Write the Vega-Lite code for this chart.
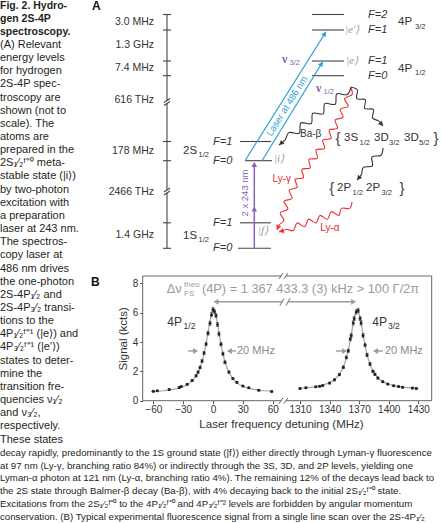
{
"$schema": "https://vega.github.io/schema/vega-lite/v6.json",
"width": 442, "height": 523, "padding": 0, "autosize": {"type": "none"},
"background": "white",
"config": {"view": {"stroke": null}, "text": {"font": "Liberation Sans"}, "axis": {"labelFont": "Liberation Sans", "titleFont": "Liberation Sans"}},
"resolve": {"scale": {"x": "independent", "y": "independent"}},
"layer": [
 {"layer": [
  {"data": {"values": [
    {"line": 1, "t": "Fig. 2. Hydro-"}, {"line": 2, "t": "gen 2S-4P"}, {"line": 3, "t": "spectroscopy."}]},
   "mark": {"type": "text", "align": "left", "baseline": "middle", "fontSize": 10.5, "fontWeight": "bold", "color": "#231f20"},
   "encoding": {
    "x": {"datum": 0, "type": "quantitative", "scale": {"domain": [0, 1], "range": [0, 442]}, "axis": null},
    "y": {"field": "line", "type": "quantitative", "scale": {"domain": [1, 34, 35, 40], "range": [5.5, 439.5, 453, 516.5], "nice": false, "zero": false}, "axis": null},
    "text": {"field": "t", "type": "nominal"}}},
  {"data": {"values": [
    {"line": 4, "t": "(A) Relevant"}, {"line": 5, "t": "energy levels"}, {"line": 6, "t": "for hydrogen"},
    {"line": 7, "t": "2S-4P spec-"}, {"line": 8, "t": "troscopy are"}, {"line": 9, "t": "shown (not to"},
    {"line": 10, "t": "scale). The"}, {"line": 11, "t": "atoms are"}, {"line": 12, "t": "prepared in the"},
    {"line": 13, "t": "2S₁⁄₂ᶠ⁼⁰ meta-"}, {"line": 14, "t": "stable state (|i⟩)"}, {"line": 15, "t": "by two-photon"},
    {"line": 16, "t": "excitation with"}, {"line": 17, "t": "a preparation"}, {"line": 18, "t": "laser at 243 nm."},
    {"line": 19, "t": "The spectros-"}, {"line": 20, "t": "copy laser at"}, {"line": 21, "t": "486 nm drives"},
    {"line": 22, "t": "the one-photon"}, {"line": 23, "t": "2S-4P₁⁄₂ and"}, {"line": 24, "t": "2S-4P₃⁄₂ transi-"},
    {"line": 25, "t": "tions to the"}, {"line": 26, "t": "4P₁⁄₂ᶠ⁼¹ (|e⟩) and"}, {"line": 27, "t": "4P₃⁄₂ᶠ⁼¹ (|e′⟩)"},
    {"line": 28, "t": "states to deter-"}, {"line": 29, "t": "mine the"}, {"line": 30, "t": "transition fre-"},
    {"line": 31, "t": "quencies ν₁⁄₂"}, {"line": 32, "t": "and ν₃⁄₂,"}, {"line": 33, "t": "respectively."},
    {"line": 34, "t": "These states"}]},
   "mark": {"type": "text", "align": "left", "baseline": "middle", "fontSize": 11, "color": "#231f20"},
   "encoding": {
    "x": {"datum": 0, "type": "quantitative", "axis": null},
    "y": {"field": "line", "type": "quantitative", "axis": null},
    "text": {"field": "t", "type": "nominal"}}},
  {"data": {"values": [
    {"line": 35, "t": "decay rapidly, predominantly to the 1S ground state (|f⟩) either directly through Lyman-γ fluorescence"},
    {"line": 36, "t": "at 97 nm (Ly-γ, branching ratio 84%) or indirectly through the 3S, 3D, and 2P levels, yielding one"},
    {"line": 37, "t": "Lyman-α photon at 121 nm (Ly-α, branching ratio 4%). The remaining 12% of the decays lead back to"},
    {"line": 38, "t": "the 2S state through Balmer-β decay (Ba-β), with 4% decaying back to the initial 2S₁⁄₂ᶠ⁼⁰ state."},
    {"line": 39, "t": "Excitations from the 2S₁⁄₂ᶠ⁼⁰ to the 4P₁⁄₂ᶠ⁼⁰ and 4P₃⁄₂ᶠ⁼² levels are forbidden by angular momentum"},
    {"line": 40, "t": "conservation. (B) Typical experimental fluorescence signal from a single line scan over the 2S-4P₁⁄₂"}]},
   "mark": {"type": "text", "align": "left", "baseline": "middle", "fontSize": 9.7, "color": "#231f20"},
   "encoding": {
    "x": {"datum": 0, "type": "quantitative", "axis": null},
    "y": {"field": "line", "type": "quantitative", "axis": null},
    "text": {"field": "t", "type": "nominal"}}}
 ]},
 {"layer": [
  {"data": {"values": [
    {"u": 222, "u2": 254, "v": 14.5, "v2": 14.5}, {"u": 222, "u2": 254, "v": 30, "v2": 30},
    {"u": 222, "u2": 254, "v": 61, "v2": 61}, {"u": 222, "u2": 254, "v": 75.7, "v2": 75.7},
    {"u": 150, "u2": 181, "v": 141.5, "v2": 141.5}, {"u": 155, "u2": 182, "v": 160.7, "v2": 160.7},
    {"u": 150, "u2": 181, "v": 222.8, "v2": 222.8}, {"u": 148, "u2": 181, "v": 248.3, "v2": 248.3},
    {"u": 77, "u2": 77, "v": 14.5, "v2": 100.5}, {"u": 77, "u2": 77, "v": 103.5, "v2": 190}, {"u": 77, "u2": 77, "v": 193, "v2": 248.3},
    {"u": 73, "u2": 81, "v": 14.5, "v2": 14.5}, {"u": 73, "u2": 81, "v": 30, "v2": 30},
    {"u": 73, "u2": 81, "v": 61, "v2": 61}, {"u": 73, "u2": 81, "v": 75.7, "v2": 75.7},
    {"u": 73, "u2": 81, "v": 141.5, "v2": 141.5}, {"u": 73, "u2": 81, "v": 160.7, "v2": 160.7},
    {"u": 73, "u2": 81, "v": 222.8, "v2": 222.8}, {"u": 73, "u2": 81, "v": 248.3, "v2": 248.3},
    {"u": 74, "u2": 80, "v": 102.5, "v2": 98.5}, {"u": 74, "u2": 80, "v": 105.5, "v2": 101.5},
    {"u": 74, "u2": 80, "v": 192, "v2": 188}, {"u": 74, "u2": 80, "v": 195, "v2": 191}]},
   "mark": {"type": "rule", "color": "#444", "strokeWidth": 1.1},
   "encoding": {
    "x": {"field": "u", "type": "quantitative", "scale": {"domain": [0, 352], "range": [90, 442], "nice": false, "zero": false}, "axis": null},
    "x2": {"field": "u2"},
    "y": {"field": "v", "type": "quantitative", "scale": {"domain": [0, 260], "range": [0, 260], "nice": false, "zero": false}, "axis": null},
    "y2": {"field": "v2"}}},
  {"data": {"values": [{"u": 155, "u2": 236, "v": 160.7, "v2": 31.7}, {"u": 172, "u2": 232.7, "v": 160.7, "v2": 61.7}]},
   "mark": {"type": "rule", "color": "#2a9fd6", "strokeWidth": 1.2},
   "encoding": {"x": {"field": "u", "type": "quantitative", "axis": null}, "x2": {"field": "u2"}, "y": {"field": "v", "type": "quantitative", "axis": null}, "y2": {"field": "v2"}}},
  {"data": {"values": [{"u": 164.3, "u2": 164.3, "v": 248.3, "v2": 163}]},
   "mark": {"type": "rule", "color": "#8a63b8", "strokeWidth": 1.5},
   "encoding": {"x": {"field": "u", "type": "quantitative", "axis": null}, "x2": {"field": "u2"}, "y": {"field": "v", "type": "quantitative", "axis": null}, "y2": {"field": "v2"}}},
  {"data": {"values": [
    {"id": "ba", "i": 0, "u": 261, "v": 87}, {"id": "ba", "i": 1, "u": 257.19, "v": 94.55}, {"id": "ba", "i": 2, "u": 246.81, "v": 93.95},
    {"id": "ba", "i": 3, "u": 245.19, "v": 104.22}, {"id": "ba", "i": 4, "u": 234.81, "v": 103.61}, {"id": "ba", "i": 5, "u": 233.19, "v": 113.89},
    {"id": "ba", "i": 6, "u": 222.81, "v": 113.28}, {"id": "ba", "i": 7, "u": 221.19, "v": 123.55}, {"id": "ba", "i": 8, "u": 210.81, "v": 122.95},
    {"id": "ba", "i": 9, "u": 209.19, "v": 133.22}, {"id": "ba", "i": 10, "u": 198.81, "v": 132.61}, {"id": "ba", "i": 11, "u": 195, "v": 140.17},
    {"id": "ba", "i": 12, "u": 189, "v": 145},
    {"id": "r3", "i": 0, "u": 261, "v": 87}, {"id": "r3", "i": 1, "u": 267.32, "v": 89.97}, {"id": "r3", "i": 2, "u": 266.68, "v": 98.65},
    {"id": "r3", "i": 3, "u": 275.32, "v": 99.72}, {"id": "r3", "i": 4, "u": 274.68, "v": 108.4}, {"id": "r3", "i": 5, "u": 283.32, "v": 109.47},
    {"id": "r3", "i": 6, "u": 282.68, "v": 118.15}, {"id": "r3", "i": 7, "u": 289, "v": 121.1}, {"id": "r3", "i": 8, "u": 293, "v": 126},
    {"id": "sp", "i": 0, "u": 293, "v": 148}, {"id": "sp", "i": 1, "u": 291, "v": 155.22}, {"id": "sp", "i": 2, "u": 282, "v": 156.78},
    {"id": "sp", "i": 3, "u": 282.33, "v": 165.89}, {"id": "sp", "i": 4, "u": 273.34, "v": 167.44}, {"id": "sp", "i": 5, "u": 271.3, "v": 174.7},
    {"id": "sp", "i": 6, "u": 267, "v": 180}]},
   "mark": {"type": "line", "interpolate": "catmull-rom", "color": "#333", "strokeWidth": 1.1},
   "encoding": {"x": {"field": "u", "type": "quantitative", "axis": null}, "y": {"field": "v", "type": "quantitative", "axis": null},
    "detail": {"field": "id", "type": "nominal"}, "order": {"field": "i", "type": "quantitative"}}},
  {"data": {"values": [
    {"id": "lg", "i": 0, "u": 261, "v": 88}, {"id": "lg", "i": 1, "u": 262.07, "v": 94.61}, {"id": "lg", "i": 2, "u": 254.56, "v": 98.56},
    {"id": "lg", "i": 3, "u": 258.19, "v": 106.37}, {"id": "lg", "i": 4, "u": 250.21, "v": 109.2}, {"id": "lg", "i": 5, "u": 253.04, "v": 117.18},
    {"id": "lg", "i": 6, "u": 245.06, "v": 120.01}, {"id": "lg", "i": 7, "u": 247.51, "v": 128.21}, {"id": "lg", "i": 8, "u": 239.24, "v": 130.05},
    {"id": "lg", "i": 9, "u": 241.08, "v": 138.33}, {"id": "lg", "i": 10, "u": 232.8, "v": 140.17}, {"id": "lg", "i": 11, "u": 234.65, "v": 148.44},
    {"id": "lg", "i": 12, "u": 226.12, "v": 149.84}, {"id": "lg", "i": 13, "u": 227.32, "v": 158.24}, {"id": "lg", "i": 14, "u": 218.92, "v": 159.44},
    {"id": "lg", "i": 15, "u": 220.12, "v": 167.84}, {"id": "lg", "i": 16, "u": 211.84, "v": 169.32}, {"id": "lg", "i": 17, "u": 213.51, "v": 177.66},
    {"id": "lg", "i": 18, "u": 205.18, "v": 179.31}, {"id": "lg", "i": 19, "u": 207.2, "v": 187.36}, {"id": "lg", "i": 20, "u": 199.22, "v": 190.23},
    {"id": "lg", "i": 21, "u": 202.09, "v": 198.21}, {"id": "lg", "i": 22, "u": 194.02, "v": 201.43}, {"id": "lg", "i": 23, "u": 197.83, "v": 209.02},
    {"id": "lg", "i": 24, "u": 190.23, "v": 212.82}, {"id": "lg", "i": 25, "u": 193.87, "v": 220.51}, {"id": "lg", "i": 26, "u": 188.91, "v": 225.02},
    {"id": "lg", "i": 27, "u": 187, "v": 230},
    {"id": "la", "i": 0, "u": 262, "v": 202}, {"id": "la", "i": 1, "u": 259.88, "v": 208.36}, {"id": "la", "i": 2, "u": 251.39, "v": 208.37},
    {"id": "la", "i": 3, "u": 248.9, "v": 215.5}, {"id": "la", "i": 4, "u": 241.32, "v": 211.68}, {"id": "la", "i": 5, "u": 237.5, "v": 219.25},
    {"id": "la", "i": 6, "u": 229.92, "v": 215.42}, {"id": "la", "i": 7, "u": 226.1, "v": 222.99}, {"id": "la", "i": 8, "u": 218.52, "v": 219.16},
    {"id": "la", "i": 9, "u": 214.7, "v": 226.74}, {"id": "la", "i": 10, "u": 207.12, "v": 222.91}, {"id": "la", "i": 11, "u": 203.3, "v": 230.48},
    {"id": "la", "i": 12, "u": 196.66, "v": 229.5}, {"id": "la", "i": 13, "u": 189, "v": 232}]},
   "mark": {"type": "line", "interpolate": "catmull-rom", "color": "#ed2d2e", "strokeWidth": 1.1},
   "encoding": {"x": {"field": "u", "type": "quantitative", "axis": null}, "y": {"field": "v", "type": "quantitative", "axis": null},
    "detail": {"field": "id", "type": "nominal"}, "order": {"field": "i", "type": "quantitative"}}},
  {"data": {"values": [{"u": 291.4, "v": 124.1, "a": 141}, {"u": 191, "v": 143.4, "a": 231}, {"u": 268.6, "v": 178.1, "a": 219}]},
   "mark": {"type": "point", "shape": "triangle-up", "filled": true, "size": 28, "color": "#333", "opacity": 1},
   "encoding": {"x": {"field": "u", "type": "quantitative", "axis": null}, "y": {"field": "v", "type": "quantitative", "axis": null},
    "angle": {"field": "a", "type": "quantitative", "scale": {"domain": [0, 360], "range": [0, 360]}}}},
  {"data": {"values": [{"u": 187.9, "v": 227.7, "a": 201}, {"u": 191.4, "v": 231.2, "a": 252}]},
   "mark": {"type": "point", "shape": "triangle-up", "filled": true, "size": 28, "color": "#ed2d2e", "opacity": 1},
   "encoding": {"x": {"field": "u", "type": "quantitative", "axis": null}, "y": {"field": "v", "type": "quantitative", "axis": null},
    "angle": {"field": "a", "type": "quantitative"}}},
  {"data": {"values": [{"u": 234.7, "v": 33.8, "a": 32}, {"u": 231.4, "v": 63.8, "a": 31}]},
   "mark": {"type": "point", "shape": "triangle-up", "filled": true, "size": 28, "color": "#2a9fd6", "opacity": 1},
   "encoding": {"x": {"field": "u", "type": "quantitative", "axis": null}, "y": {"field": "v", "type": "quantitative", "axis": null},
    "angle": {"field": "a", "type": "quantitative"}}},
  {"data": {"values": [{"u": 164.3, "v": 164.5, "a": 0}, {"u": 164.3, "v": 209, "a": 0}]},
   "mark": {"type": "point", "shape": "triangle-up", "filled": true, "size": 32, "color": "#8a63b8", "opacity": 1},
   "encoding": {"x": {"field": "u", "type": "quantitative", "axis": null}, "y": {"field": "v", "type": "quantitative", "axis": null},
    "angle": {"field": "a", "type": "quantitative"}}},
  {"data": {"values": [
    {"u": 64, "v": 22, "t": "3.0 MHz"}, {"u": 64, "v": 45, "t": "1.3 GHz"}, {"u": 64, "v": 68.3, "t": "7.4 MHz"},
    {"u": 64, "v": 100, "t": "616 THz"}, {"u": 64, "v": 151, "t": "178 MHz"}, {"u": 64, "v": 191.7, "t": "2466 THz"},
    {"u": 64, "v": 235, "t": "1.4 GHz"}]},
   "mark": {"type": "text", "align": "right", "baseline": "middle", "fontSize": 10.5, "color": "#333"},
   "encoding": {"x": {"field": "u", "type": "quantitative", "axis": null}, "y": {"field": "v", "type": "quantitative", "axis": null}, "text": {"field": "t", "type": "nominal"}}},
  {"data": {"values": [
    {"u": 278, "v": 14.5, "t": "F=2"}, {"u": 278, "v": 30, "t": "F=1"}, {"u": 278, "v": 61, "t": "F=1"}, {"u": 278, "v": 75.7, "t": "F=0"},
    {"u": 123, "v": 141.5, "t": "F=1"}, {"u": 123, "v": 160.7, "t": "F=0"}, {"u": 123, "v": 222.8, "t": "F=1"}, {"u": 123, "v": 248.3, "t": "F=0"}]},
   "mark": {"type": "text", "align": "left", "baseline": "middle", "fontSize": 11, "fontStyle": "italic", "color": "#333"},
   "encoding": {"x": {"field": "u", "type": "quantitative", "axis": null}, "y": {"field": "v", "type": "quantitative", "axis": null}, "text": {"field": "t", "type": "nominal"}}},
  {"data": {"values": [
    {"u": 308, "v": 22, "t": "4P"}, {"u": 308, "v": 68.5, "t": "4P"}, {"u": 93, "v": 150.5, "t": "2S"}, {"u": 93, "v": 235.5, "t": "1S"},
    {"u": 254, "v": 138, "t": "3S"}, {"u": 284, "v": 138, "t": "3D"}, {"u": 314, "v": 138, "t": "3D"},
    {"u": 247, "v": 188, "t": "2P"}, {"u": 276, "v": 188, "t": "2P"}]},
   "mark": {"type": "text", "align": "left", "baseline": "middle", "fontSize": 11.5, "color": "#333"},
   "encoding": {"x": {"field": "u", "type": "quantitative", "axis": null}, "y": {"field": "v", "type": "quantitative", "axis": null}, "text": {"field": "t", "type": "nominal"}}},
  {"data": {"values": [
    {"u": 325, "v": 26.5, "t": "3/2"}, {"u": 325, "v": 73, "t": "1/2"}, {"u": 108.5, "v": 155, "t": "1/2"}, {"u": 108.5, "v": 240, "t": "1/2"},
    {"u": 269.5, "v": 142.5, "t": "1/2"}, {"u": 299, "v": 142.5, "t": "3/2"}, {"u": 329, "v": 142.5, "t": "5/2"},
    {"u": 262.5, "v": 192.5, "t": "1/2"}, {"u": 291.5, "v": 192.5, "t": "3/2"}]},
   "mark": {"type": "text", "align": "left", "baseline": "middle", "fontSize": 7.5, "color": "#333"},
   "encoding": {"x": {"field": "u", "type": "quantitative", "axis": null}, "y": {"field": "v", "type": "quantitative", "axis": null}, "text": {"field": "t", "type": "nominal"}}},
  {"data": {"values": [{"u": 248, "v": 137.5, "t": "{"}, {"u": 346, "v": 137.5, "t": "}"}, {"u": 241.7, "v": 187.5, "t": "{"}, {"u": 312, "v": 187.5, "t": "}"}]},
   "mark": {"type": "text", "align": "center", "baseline": "middle", "fontSize": 15, "color": "#444"},
   "encoding": {"x": {"field": "u", "type": "quantitative", "axis": null}, "y": {"field": "v", "type": "quantitative", "axis": null}, "text": {"field": "t", "type": "nominal"}}},
  {"data": {"values": [{"u": 255, "v": 30, "t": "|e′⟩"}, {"u": 256, "v": 61, "t": "|e⟩"}, {"u": 184, "v": 159, "t": "|i⟩"}, {"u": 168, "v": 231, "t": "|f⟩"}]},
   "mark": {"type": "text", "align": "left", "baseline": "middle", "fontSize": 11, "font": "Liberation Serif", "fontStyle": "italic", "color": "#9a9a9a"},
   "encoding": {"x": {"field": "u", "type": "quantitative", "axis": null}, "y": {"field": "v", "type": "quantitative", "axis": null}, "text": {"field": "t", "type": "nominal"}}},
  {"data": {"values": [{"u": 192, "v": 58.5, "t": "ν"}, {"u": 226, "v": 88, "t": "ν"}]},
   "mark": {"type": "text", "align": "left", "baseline": "middle", "fontSize": 12, "font": "Liberation Serif", "fontWeight": "bold", "color": "#8a63b8"},
   "encoding": {"x": {"field": "u", "type": "quantitative", "axis": null}, "y": {"field": "v", "type": "quantitative", "axis": null}, "text": {"field": "t", "type": "nominal"}}},
  {"data": {"values": [{"u": 199.5, "v": 62.5, "t": "3/2"}, {"u": 233.5, "v": 92, "t": "1/2"}]},
   "mark": {"type": "text", "align": "left", "baseline": "middle", "fontSize": 7.5, "color": "#8a63b8"},
   "encoding": {"x": {"field": "u", "type": "quantitative", "axis": null}, "y": {"field": "v", "type": "quantitative", "axis": null}, "text": {"field": "t", "type": "nominal"}}},
  {"data": {"values": [{"u": 155, "v": 193, "t": "2 x 243 nm"}]},
   "mark": {"type": "text", "align": "center", "baseline": "middle", "fontSize": 9.5, "angle": 270, "color": "#8a63b8"},
   "encoding": {"x": {"field": "u", "type": "quantitative", "axis": null}, "y": {"field": "v", "type": "quantitative", "axis": null}, "text": {"field": "t", "type": "nominal"}}},
  {"data": {"values": [{"u": 197, "v": 106, "t": "Laser at 486 nm"}]},
   "mark": {"type": "text", "align": "center", "baseline": "middle", "fontSize": 9.5, "angle": 302, "color": "#2a9fd6"},
   "encoding": {"x": {"field": "u", "type": "quantitative", "axis": null}, "y": {"field": "v", "type": "quantitative", "axis": null}, "text": {"field": "t", "type": "nominal"}}},
  {"data": {"values": [{"u": 201, "v": 179, "t": "Ly-γ"}]},
   "mark": {"type": "text", "align": "right", "baseline": "middle", "fontSize": 10, "color": "#ed2d2e"},
   "encoding": {"x": {"field": "u", "type": "quantitative", "axis": null}, "y": {"field": "v", "type": "quantitative", "axis": null}, "text": {"field": "t", "type": "nominal"}}},
  {"data": {"values": [{"u": 240, "v": 227.5, "t": "Ly-α"}]},
   "mark": {"type": "text", "align": "center", "baseline": "middle", "fontSize": 10, "color": "#ed2d2e"},
   "encoding": {"x": {"field": "u", "type": "quantitative", "axis": null}, "y": {"field": "v", "type": "quantitative", "axis": null}, "text": {"field": "t", "type": "nominal"}}},
  {"data": {"values": [{"u": 210, "v": 134, "t": "Ba-β"}]},
   "mark": {"type": "text", "align": "left", "baseline": "middle", "fontSize": 10, "color": "#333"},
   "encoding": {"x": {"field": "u", "type": "quantitative", "axis": null}, "y": {"field": "v", "type": "quantitative", "axis": null}, "text": {"field": "t", "type": "nominal"}}},
  {"data": {"values": [{"u": 2, "v": 6, "t": "A"}, {"u": 1, "v": 282, "t": "B"}]},
   "mark": {"type": "text", "align": "left", "baseline": "middle", "fontSize": 12, "fontWeight": "bold", "color": "#111"},
   "encoding": {"x": {"field": "u", "type": "quantitative", "axis": null}, "y": {"field": "v", "type": "quantitative", "axis": null}, "text": {"field": "t", "type": "nominal"}}}
 ]},
 {"layer": [
  {"data": {"values": [
    {"f": -70.65, "f2": -70.65, "s": 0, "s2": 8.5}, {"f": 1443.6, "f2": 1443.6, "s": 0, "s2": 8.5},
    {"f": -70.65, "f2": 440, "s": 0, "s2": 0}, {"f": 669, "f2": 1443.6, "s": 0, "s2": 0},
    {"f": -70.65, "f2": 440, "s": 8.5, "s2": 8.5}, {"f": 669, "f2": 1443.6, "s": 8.5, "s2": 8.5},
    {"f": 348, "f2": 532, "s": -0.2, "s2": 0.2}, {"f": 577, "f2": 761, "s": -0.2, "s2": 0.2},
    {"f": 348, "f2": 532, "s": 8.3, "s2": 8.7}, {"f": 577, "f2": 761, "s": 8.3, "s2": 8.7}]},
   "mark": {"type": "rule", "color": "#666", "strokeWidth": 1},
   "encoding": {
    "x": {"field": "f", "type": "quantitative", "title": "Laser frequency detuning (MHz)", "scale": {"domain": [-70.65, 60, 1310, 1443.6], "range": [142.7, 272.7, 300, 431.7], "nice": false, "zero": false},
     "axis": {"orient": "bottom", "offset": -122.3, "values": [-60, -30, 0, 30, 60, 1310, 1340, 1370, 1400, 1430], "format": "d", "domain": false, "grid": false,
      "tickSize": 3, "tickColor": "#555", "labelFontSize": 10, "labelColor": "#333", "labelPadding": 1, "labelFlush": false,
      "titleFontSize": 11.5, "titleFontWeight": "normal", "titleColor": "#333", "titleX": 281, "titlePadding": 4}},
    "x2": {"field": "f2"},
    "y": {"field": "s", "type": "quantitative", "title": "Signal (kcts)", "scale": {"domain": [0, 8.5], "range": [400.7, 276], "nice": false, "zero": false},
     "axis": {"orient": "left", "offset": -142.7, "values": [0, 2, 4, 6, 8], "format": "d", "domain": false, "grid": false,
      "tickSize": 3, "tickColor": "#555", "labelFontSize": 10, "labelColor": "#333", "labelPadding": 2,
      "titleFontSize": 11.5, "titleFontWeight": "normal", "titleColor": "#333", "titlePadding": 4}},
    "y2": {"field": "s2"}}},
  {"data": {"values": [
    {"side": "L", "f": -62, "s": 0.62}, {"side": "L", "f": -50, "s": 0.68}, {"side": "L", "f": -40, "s": 0.77}, {"side": "L", "f": -30, "s": 0.96},
    {"side": "L", "f": -25, "s": 1.13}, {"side": "L", "f": -20, "s": 1.42}, {"side": "L", "f": -16, "s": 1.81}, {"side": "L", "f": -13, "s": 2.25},
    {"side": "L", "f": -10, "s": 2.91}, {"side": "L", "f": -8, "s": 3.51}, {"side": "L", "f": -6, "s": 4.25}, {"side": "L", "f": -4, "s": 5.06},
    {"side": "L", "f": -2, "s": 5.79}, {"side": "L", "f": 0, "s": 6.18}, {"side": "L", "f": 0.5, "s": 6.2}, {"side": "L", "f": 1, "s": 6.18},
    {"side": "L", "f": 3, "s": 5.79}, {"side": "L", "f": 5, "s": 5.06}, {"side": "L", "f": 7, "s": 4.25}, {"side": "L", "f": 9, "s": 3.51},
    {"side": "L", "f": 11, "s": 2.91}, {"side": "L", "f": 14, "s": 2.25}, {"side": "L", "f": 17, "s": 1.81}, {"side": "L", "f": 21, "s": 1.42},
    {"side": "L", "f": 26, "s": 1.13}, {"side": "L", "f": 31, "s": 0.96}, {"side": "L", "f": 41, "s": 0.77}, {"side": "L", "f": 51, "s": 0.68},
    {"side": "L", "f": 60, "s": 0.63},
    {"side": "R", "f": 1310, "s": 0.85}, {"side": "R", "f": 1320, "s": 0.91}, {"side": "R", "f": 1330, "s": 1.01}, {"side": "R", "f": 1340, "s": 1.23},
    {"side": "R", "f": 1345, "s": 1.44}, {"side": "R", "f": 1350, "s": 1.81}, {"side": "R", "f": 1354, "s": 2.31}, {"side": "R", "f": 1357, "s": 2.91},
    {"side": "R", "f": 1359, "s": 3.45}, {"side": "R", "f": 1361, "s": 4.12}, {"side": "R", "f": 1363, "s": 4.88}, {"side": "R", "f": 1365, "s": 5.63},
    {"side": "R", "f": 1367, "s": 6.1}, {"side": "R", "f": 1368, "s": 6.17}, {"side": "R", "f": 1369, "s": 6.1}, {"side": "R", "f": 1371, "s": 5.63},
    {"side": "R", "f": 1373, "s": 4.88}, {"side": "R", "f": 1375, "s": 4.12}, {"side": "R", "f": 1377, "s": 3.45}, {"side": "R", "f": 1379, "s": 2.91},
    {"side": "R", "f": 1382, "s": 2.31}, {"side": "R", "f": 1386, "s": 1.81}, {"side": "R", "f": 1391, "s": 1.44}, {"side": "R", "f": 1396, "s": 1.23},
    {"side": "R", "f": 1406, "s": 1.01}, {"side": "R", "f": 1416, "s": 0.91}, {"side": "R", "f": 1430, "s": 0.83}]},
   "mark": {"type": "line", "interpolate": "monotone", "color": "#a5a5a5", "strokeWidth": 1.2},
   "encoding": {"x": {"field": "f", "type": "quantitative", "title": "Laser frequency detuning (MHz)"}, "y": {"field": "s", "type": "quantitative", "title": "Signal (kcts)"}, "detail": {"field": "side", "type": "nominal"}}},
  {"data": {"name": "pts", "values": [
    {"f": -60, "s": 0.64, "e": 0.05}, {"f": -56, "s": 0.67, "e": 0.05}, {"f": -44, "s": 0.76, "e": 0.05}, {"f": -34, "s": 0.9, "e": 0.05},
    {"f": -32, "s": 0.96, "e": 0.05}, {"f": -26, "s": 1.12, "e": 0.06}, {"f": -21, "s": 1.38, "e": 0.07}, {"f": -17, "s": 1.7, "e": 0.08},
    {"f": -15, "s": 1.95, "e": 0.08}, {"f": -13, "s": 2.27, "e": 0.09}, {"f": -11, "s": 2.7, "e": 0.1}, {"f": -9, "s": 3.25, "e": 0.11},
    {"f": -7, "s": 3.86, "e": 0.12}, {"f": -5, "s": 4.6, "e": 0.13}, {"f": -3, "s": 5.28, "e": 0.14}, {"f": -1.5, "s": 5.86, "e": 0.14},
    {"f": 0, "s": 6.22, "e": 0.15}, {"f": 1.5, "s": 6.08, "e": 0.15}, {"f": 3, "s": 5.8, "e": 0.14}, {"f": 4.5, "s": 5.2, "e": 0.14},
    {"f": 6, "s": 4.55, "e": 0.13}, {"f": 8, "s": 3.85, "e": 0.12}, {"f": 10, "s": 3.2, "e": 0.11}, {"f": 12, "s": 2.62, "e": 0.1},
    {"f": 16, "s": 1.95, "e": 0.08}, {"f": 20, "s": 1.52, "e": 0.07}, {"f": 24, "s": 1.25, "e": 0.06}, {"f": 30, "s": 1, "e": 0.05},
    {"f": 36, "s": 0.88, "e": 0.05}, {"f": 46, "s": 0.72, "e": 0.05}, {"f": 59, "s": 0.63, "e": 0.05},
    {"f": 1310, "s": 0.83, "e": 0.05}, {"f": 1316, "s": 0.88, "e": 0.05}, {"f": 1326, "s": 0.95, "e": 0.05}, {"f": 1330, "s": 0.99, "e": 0.05},
    {"f": 1333, "s": 1.04, "e": 0.05}, {"f": 1340, "s": 1.2, "e": 0.06}, {"f": 1345, "s": 1.42, "e": 0.07}, {"f": 1350, "s": 1.78, "e": 0.08},
    {"f": 1354, "s": 2.28, "e": 0.09}, {"f": 1357, "s": 2.95, "e": 0.1}, {"f": 1359, "s": 3.4, "e": 0.11}, {"f": 1361, "s": 4.2, "e": 0.12},
    {"f": 1362, "s": 4.45, "e": 0.13}, {"f": 1364, "s": 5.3, "e": 0.14}, {"f": 1365, "s": 5.6, "e": 0.14}, {"f": 1367, "s": 6.05, "e": 0.15},
    {"f": 1369, "s": 6.15, "e": 0.15}, {"f": 1371, "s": 5.6, "e": 0.14}, {"f": 1372, "s": 5.3, "e": 0.14}, {"f": 1374, "s": 4.45, "e": 0.13},
    {"f": 1376, "s": 3.8, "e": 0.12}, {"f": 1378, "s": 3.12, "e": 0.11}, {"f": 1381, "s": 2.5, "e": 0.1}, {"f": 1384, "s": 2.0, "e": 0.08},
    {"f": 1386, "s": 1.8, "e": 0.08}, {"f": 1389, "s": 1.55, "e": 0.07}, {"f": 1394, "s": 1.3, "e": 0.06}, {"f": 1399, "s": 1.13, "e": 0.05},
    {"f": 1405, "s": 1.02, "e": 0.05}, {"f": 1410, "s": 0.96, "e": 0.05}, {"f": 1414, "s": 0.92, "e": 0.05}, {"f": 1424, "s": 0.86, "e": 0.05},
    {"f": 1428, "s": 0.84, "e": 0.05}]},
   "mark": {"type": "errorbar", "ticks": true, "size": 3, "thickness": 0.8, "color": "#333"},
   "encoding": {"x": {"field": "f", "type": "quantitative", "title": "Laser frequency detuning (MHz)"}, "y": {"field": "s", "type": "quantitative", "title": "Signal (kcts)"}, "yError": {"field": "e"}}},
  {"data": {"name": "pts"},
   "mark": {"type": "circle", "size": 9, "color": "#222", "opacity": 1},
   "encoding": {"x": {"field": "f", "type": "quantitative", "title": "Laser frequency detuning (MHz)"}, "y": {"field": "s", "type": "quantitative", "title": "Signal (kcts)"}}},
  {"data": {"values": [
    {"f": 2, "f2": 486, "s": 6.74, "s2": 6.74}, {"f": 760, "f2": 1365, "s": 6.74, "s2": 6.74},
    {"f": 394, "f2": 577, "s": 6.5, "s2": 6.98}, {"f": 669, "f2": 852, "s": 6.5, "s2": 6.98},
    {"f": -25.1, "f2": -16.5, "s": 3.39, "s2": 3.39}, {"f": 23.1, "f2": 15, "s": 3.39, "s2": 3.39},
    {"f": 1346.5, "f2": 1356, "s": 3.39, "s2": 3.39}, {"f": 1394.2, "f2": 1385.5, "s": 3.39, "s2": 3.39}]},
   "mark": {"type": "rule", "color": "#9b9b9b", "strokeWidth": 1.4},
   "encoding": {"x": {"field": "f", "type": "quantitative", "title": "Laser frequency detuning (MHz)"}, "x2": {"field": "f2"}, "y": {"field": "s", "type": "quantitative", "title": "Signal (kcts)"}, "y2": {"field": "s2"}}},
  {"data": {"values": [
    {"f": 3, "s": 6.74, "a": 270}, {"f": 1364.4, "s": 6.74, "a": 90},
    {"f": -17.5, "s": 3.39, "a": 90}, {"f": 16.5, "s": 3.39, "a": 270}, {"f": 1355.2, "s": 3.39, "a": 90}, {"f": 1386.6, "s": 3.39, "a": 270}]},
   "mark": {"type": "point", "shape": "triangle-up", "filled": true, "size": 34, "color": "#9b9b9b", "opacity": 1},
   "encoding": {"x": {"field": "f", "type": "quantitative", "title": "Laser frequency detuning (MHz)"}, "y": {"field": "s", "type": "quantitative", "title": "Signal (kcts)"},
    "angle": {"field": "a", "type": "quantitative", "scale": {"domain": [0, 360], "range": [0, 360]}}}},
  {"data": {"values": [{"f": -46.5, "s": 7.59, "t": "Δν"}, {"f": -11.1, "s": 7.59, "t": "(4P) = 1 367 433.3 (3) kHz > 100 Γ/2π"}]},
   "mark": {"type": "text", "align": "left", "baseline": "middle", "fontSize": 12.8, "color": "#9b9b9b"},
   "encoding": {"x": {"field": "f", "type": "quantitative", "title": "Laser frequency detuning (MHz)"}, "y": {"field": "s", "type": "quantitative", "title": "Signal (kcts)"}, "text": {"field": "t", "type": "nominal"}}},
  {"data": {"values": [{"f": -29.1, "s": 7.92, "t": "theo"}, {"f": -29.1, "s": 7.25, "t": "FS"}]},
   "mark": {"type": "text", "align": "left", "baseline": "middle", "fontSize": 8, "color": "#9b9b9b"},
   "encoding": {"x": {"field": "f", "type": "quantitative", "title": "Laser frequency detuning (MHz)"}, "y": {"field": "s", "type": "quantitative", "title": "Signal (kcts)"}, "text": {"field": "t", "type": "nominal"}}},
  {"data": {"values": [{"f": 24.1, "s": 3.39, "t": "20 MHz"}, {"f": 1396.2, "s": 3.39, "t": "20 MHz"}]},
   "mark": {"type": "text", "align": "left", "baseline": "middle", "fontSize": 11, "color": "#8a8a8a"},
   "encoding": {"x": {"field": "f", "type": "quantitative", "title": "Laser frequency detuning (MHz)"}, "y": {"field": "s", "type": "quantitative", "title": "Signal (kcts)"}, "text": {"field": "t", "type": "nominal"}}},
  {"data": {"values": [{"f": -45.9, "s": 5.35, "t": "4P"}, {"f": 1383.3, "s": 5.35, "t": "4P"}]},
   "mark": {"type": "text", "align": "left", "baseline": "middle", "fontSize": 12, "color": "#333"},
   "encoding": {"x": {"field": "f", "type": "quantitative", "title": "Laser frequency detuning (MHz)"}, "y": {"field": "s", "type": "quantitative", "title": "Signal (kcts)"}, "text": {"field": "t", "type": "nominal"}}},
  {"data": {"values": [{"f": -29.6, "s": 5.1, "t": "1/2"}, {"f": 1399.2, "s": 5.1, "t": "3/2"}]},
   "mark": {"type": "text", "align": "left", "baseline": "middle", "fontSize": 8.5, "color": "#333"},
   "encoding": {"x": {"field": "f", "type": "quantitative", "title": "Laser frequency detuning (MHz)"}, "y": {"field": "s", "type": "quantitative", "title": "Signal (kcts)"}, "text": {"field": "t", "type": "nominal"}}}
 ]}
]
}
